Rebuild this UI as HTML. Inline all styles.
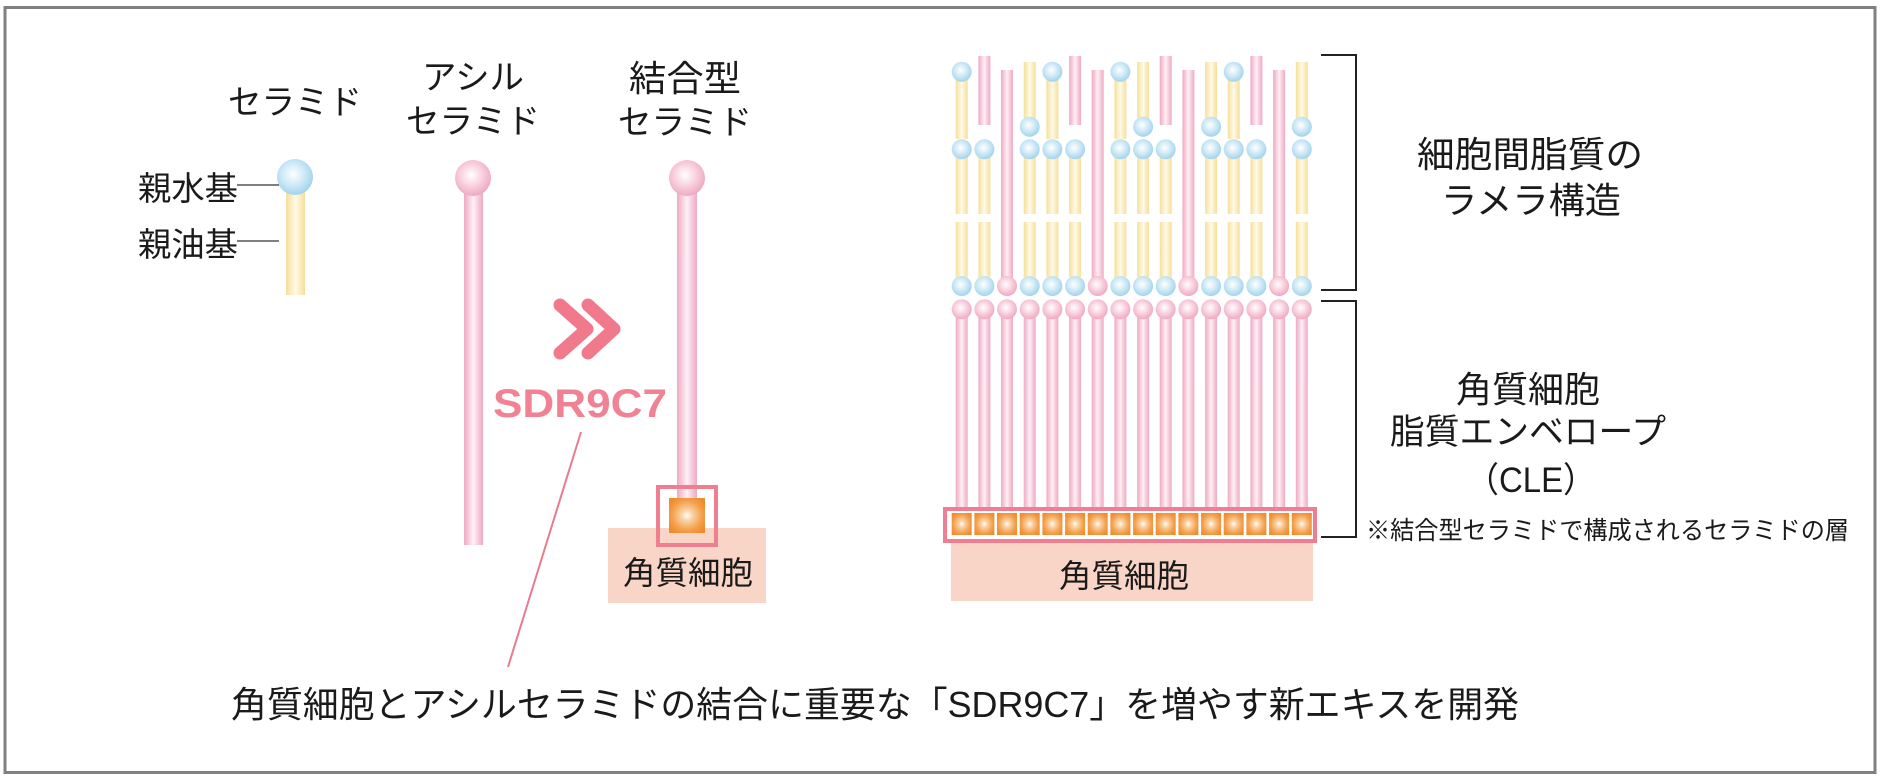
<!DOCTYPE html>
<html>
<head>
<meta charset="utf-8">
<style>
  html,body{margin:0;padding:0;background:#fff;}
  svg{display:block;}
  text{font-family:"Liberation Sans","Noto Sans CJK JP",sans-serif;fill:#1a1a1a;}
</style>
</head>
<body>
<svg width="1890" height="780" viewBox="0 0 1890 780" xmlns="http://www.w3.org/2000/svg">
  <defs>
    <linearGradient id="ps" x1="0" y1="0" x2="1" y2="0">
      <stop offset="0" stop-color="#eeaac3"/>
      <stop offset="0.3" stop-color="#f8d2e0"/>
      <stop offset="0.5" stop-color="#fff1f6"/>
      <stop offset="0.7" stop-color="#f8d2e0"/>
      <stop offset="1" stop-color="#eeaac3"/>
    </linearGradient>
    <linearGradient id="ys" x1="0" y1="0" x2="1" y2="0">
      <stop offset="0" stop-color="#f6df9c"/>
      <stop offset="0.3" stop-color="#fcefc6"/>
      <stop offset="0.5" stop-color="#fffaea"/>
      <stop offset="0.7" stop-color="#fcefc6"/>
      <stop offset="1" stop-color="#f6df9c"/>
    </linearGradient>
    <radialGradient id="bb" cx="0.45" cy="0.42" r="0.6">
      <stop offset="0" stop-color="#ffffff"/>
      <stop offset="0.55" stop-color="#cbe8f6"/>
      <stop offset="1" stop-color="#9fd2ec"/>
    </radialGradient>
    <radialGradient id="pb" cx="0.45" cy="0.42" r="0.6">
      <stop offset="0" stop-color="#ffffff"/>
      <stop offset="0.55" stop-color="#f8cddc"/>
      <stop offset="1" stop-color="#eea7c0"/>
    </radialGradient>
    <radialGradient id="og" cx="0.5" cy="0.5" r="0.6">
      <stop offset="0" stop-color="#ffffff"/>
      <stop offset="0.25" stop-color="#fbd3a6"/>
      <stop offset="0.7" stop-color="#f3a04c"/>
      <stop offset="1" stop-color="#ee8c2e"/>
    </radialGradient>

    <g id="tA">
      <rect x="-6" y="72" width="12" height="67" fill="url(#ys)"/>
      <rect x="-6" y="149" width="12" height="65" fill="url(#ys)"/>
      <rect x="-6" y="222" width="12" height="55" fill="url(#ys)"/>
      <circle cx="0" cy="71.7" r="10" fill="url(#bb)"/>
      <circle cx="0" cy="149.3" r="10" fill="url(#bb)"/>
      <circle cx="0" cy="286" r="10" fill="url(#bb)"/>
    </g>
    <g id="tB">
      <rect x="-6" y="56" width="12" height="69" fill="url(#ps)"/>
      <rect x="-6" y="149" width="12" height="65" fill="url(#ys)"/>
      <rect x="-6" y="222" width="12" height="55" fill="url(#ys)"/>
      <circle cx="0" cy="149.3" r="10" fill="url(#bb)"/>
      <circle cx="0" cy="286" r="10" fill="url(#bb)"/>
    </g>
    <g id="tC">
      <rect x="-6" y="70" width="12" height="216" fill="url(#ps)"/>
      <circle cx="0" cy="286" r="10" fill="url(#pb)"/>
    </g>
    <g id="tD">
      <rect x="-6" y="62" width="12" height="56" fill="url(#ys)"/>
      <rect x="-6" y="149" width="12" height="65" fill="url(#ys)"/>
      <rect x="-6" y="222" width="12" height="55" fill="url(#ys)"/>
      <circle cx="0" cy="126.7" r="10" fill="url(#bb)"/>
      <circle cx="0" cy="149.3" r="10" fill="url(#bb)"/>
      <circle cx="0" cy="286" r="10" fill="url(#bb)"/>
    </g>
    <g id="tE">
      <rect x="-6" y="309" width="12" height="206" fill="url(#ps)"/>
      <circle cx="0" cy="309.3" r="10" fill="url(#pb)"/>
    </g>
    <g id="sq">
      <rect x="-10" y="513" width="20" height="22" fill="url(#og)"/>
    </g>
  </defs>

  <!-- outer border -->
  <rect x="5" y="7.5" width="1870" height="765" fill="none" stroke="#808080" stroke-width="3"/>

  <!-- ===== Left: ceramide ===== -->
  <text x="295" y="114" font-size="34" text-anchor="middle" textLength="134" lengthAdjust="spacingAndGlyphs">セラミド</text>
  <rect x="286" y="190" width="19" height="105" fill="url(#ys)"/>
  <circle cx="295" cy="177" r="18" fill="url(#bb)"/>
  <text x="138" y="200" font-size="33" textLength="100" lengthAdjust="spacingAndGlyphs">親水基</text>
  <text x="138" y="256" font-size="33" textLength="100" lengthAdjust="spacingAndGlyphs">親油基</text>
  <line x1="237" y1="185" x2="279" y2="185" stroke="#333" stroke-width="1.3"/>
  <line x1="237" y1="241" x2="279" y2="241" stroke="#333" stroke-width="1.3"/>

  <!-- ===== Acyl ceramide ===== -->
  <text x="473" y="89" font-size="34" text-anchor="middle" textLength="102" lengthAdjust="spacingAndGlyphs">アシル</text>
  <text x="473" y="133" font-size="34" text-anchor="middle" textLength="134" lengthAdjust="spacingAndGlyphs">セラミド</text>
  <rect x="464" y="190" width="19" height="355" fill="url(#ps)"/>
  <circle cx="473" cy="178" r="18" fill="url(#pb)"/>

  <!-- chevrons -->
  <polyline points="560,305 587,329 560,353" fill="none" stroke="#f07a8c" stroke-width="13" stroke-linecap="round" stroke-linejoin="round"/>
  <polyline points="588,305 614,329 588,353" fill="none" stroke="#f07a8c" stroke-width="13" stroke-linecap="round" stroke-linejoin="round"/>
  <text x="580" y="417" font-size="40" font-weight="bold" text-anchor="middle" textLength="174" lengthAdjust="spacingAndGlyphs" style="fill:#f08294">SDR9C7</text>
  <line x1="581" y1="432" x2="508" y2="667" stroke="#ea7a8e" stroke-width="2"/>

  <!-- ===== Bonded ceramide ===== -->
  <text x="685" y="91" font-size="36" text-anchor="middle" textLength="112" lengthAdjust="spacingAndGlyphs">結合型</text>
  <text x="685" y="134" font-size="34" text-anchor="middle" textLength="134" lengthAdjust="spacingAndGlyphs">セラミド</text>
  <rect x="608" y="528" width="158" height="75" fill="#f9d5c7"/>
  <rect x="677" y="190" width="20" height="310" fill="url(#ps)"/>
  <circle cx="687" cy="178" r="18" fill="url(#pb)"/>
  <rect x="669" y="498" width="36" height="35" fill="url(#og)"/>
  <rect x="658" y="487" width="58" height="58" fill="none" stroke="#ef7f90" stroke-width="4"/>
  <text x="688" y="584" font-size="32" text-anchor="middle" textLength="130" lengthAdjust="spacingAndGlyphs">角質細胞</text>

  <!-- ===== Right: lamellae ===== -->
  <rect x="951" y="525" width="362" height="76" fill="#f9d5c7"/>

  <use href="#tA" x="961.7"/>
  <use href="#tB" x="984.4"/>
  <use href="#tC" x="1007.0"/>
  <use href="#tD" x="1029.7"/>
  <use href="#tA" x="1052.4"/>
  <use href="#tB" x="1075.1"/>
  <use href="#tC" x="1097.7"/>
  <use href="#tA" x="1120.4"/>
  <use href="#tD" x="1143.1"/>
  <use href="#tB" x="1165.7"/>
  <use href="#tC" x="1188.4"/>
  <use href="#tD" x="1211.1"/>
  <use href="#tA" x="1233.7"/>
  <use href="#tB" x="1256.4"/>
  <use href="#tC" x="1279.1"/>
  <use href="#tD" x="1301.8"/>

  <use href="#tE" x="961.7"/>
  <use href="#tE" x="984.4"/>
  <use href="#tE" x="1007.0"/>
  <use href="#tE" x="1029.7"/>
  <use href="#tE" x="1052.4"/>
  <use href="#tE" x="1075.1"/>
  <use href="#tE" x="1097.7"/>
  <use href="#tE" x="1120.4"/>
  <use href="#tE" x="1143.1"/>
  <use href="#tE" x="1165.7"/>
  <use href="#tE" x="1188.4"/>
  <use href="#tE" x="1211.1"/>
  <use href="#tE" x="1233.7"/>
  <use href="#tE" x="1256.4"/>
  <use href="#tE" x="1279.1"/>
  <use href="#tE" x="1301.8"/>

  <rect x="945" y="509" width="370" height="32" fill="#fff"/>
  <use href="#sq" x="961.7"/>
  <use href="#sq" x="984.4"/>
  <use href="#sq" x="1007.0"/>
  <use href="#sq" x="1029.7"/>
  <use href="#sq" x="1052.4"/>
  <use href="#sq" x="1075.1"/>
  <use href="#sq" x="1097.7"/>
  <use href="#sq" x="1120.4"/>
  <use href="#sq" x="1143.1"/>
  <use href="#sq" x="1165.7"/>
  <use href="#sq" x="1188.4"/>
  <use href="#sq" x="1211.1"/>
  <use href="#sq" x="1233.7"/>
  <use href="#sq" x="1256.4"/>
  <use href="#sq" x="1279.1"/>
  <use href="#sq" x="1301.8"/>
  <rect x="945" y="509" width="370" height="32" fill="none" stroke="#ef7f90" stroke-width="4"/>

  <text x="1124" y="587" font-size="32" text-anchor="middle" textLength="130" lengthAdjust="spacingAndGlyphs">角質細胞</text>

  <!-- brackets -->
  <path d="M1321,55 H1356 V290 H1321" fill="none" stroke="#222" stroke-width="2"/>
  <path d="M1321,301 H1356 V537 H1321" fill="none" stroke="#222" stroke-width="2"/>

  <!-- right labels -->
  <text x="1530" y="167" font-size="36" text-anchor="middle" textLength="226" lengthAdjust="spacingAndGlyphs">細胞間脂質の</text>
  <text x="1531" y="213" font-size="36" text-anchor="middle" textLength="180" lengthAdjust="spacingAndGlyphs">ラメラ構造</text>
  <text x="1528" y="402" font-size="36" text-anchor="middle" textLength="144" lengthAdjust="spacingAndGlyphs">角質細胞</text>
  <text x="1528" y="444" font-size="35" text-anchor="middle" textLength="276" lengthAdjust="spacingAndGlyphs">脂質エンベロープ</text>
  <text x="1531" y="492" font-size="35" text-anchor="middle" textLength="130" lengthAdjust="spacingAndGlyphs">（CLE）</text>
  <text x="1366" y="539" font-size="25" textLength="483" lengthAdjust="spacingAndGlyphs">※結合型セラミドで構成されるセラミドの層</text>

  <!-- bottom caption -->
  <text x="231" y="717" font-size="36" textLength="1288" lengthAdjust="spacingAndGlyphs">角質細胞とアシルセラミドの結合に重要な「SDR9C7」を増やす新エキスを開発</text>
</svg>
</body>
</html>
